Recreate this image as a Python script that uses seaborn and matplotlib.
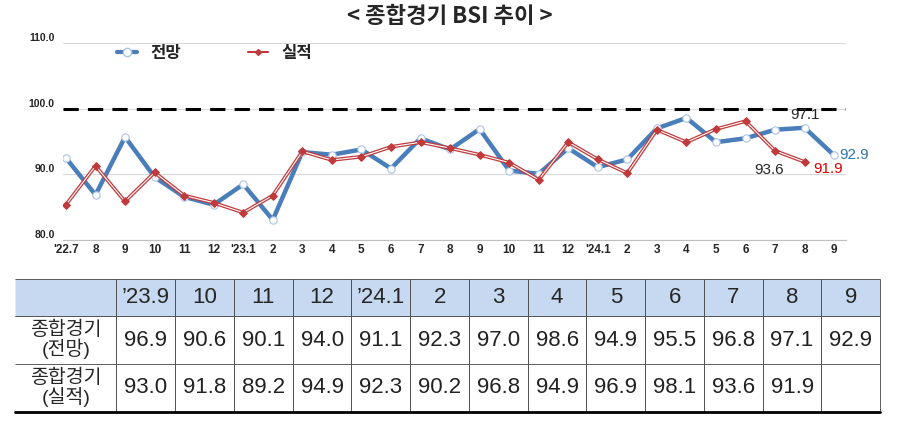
import matplotlib
matplotlib.use("Agg")
import matplotlib.pyplot as plt
import seaborn as sns
import pandas as pd

sns.set_style("white")
plt.rcParams['font.family'] = ['Liberation Sans', 'Noto Sans CJK KR', 'DejaVu Sans']

months = ["'22.7","8","9","10","11","12","'23.1","2","3","4","5","6","7","8",
          "9","10","11","12","'24.1","2","3","4","5","6","7","8","9"]
forecast = [92.5,86.9,95.7,89.6,86.6,85.4,88.5,83.1,93.4,93.0,93.8,90.9,95.5,93.8,
            96.9,90.6,90.1,94.0,91.1,92.3,97.0,98.6,94.9,95.5,96.8,97.1,92.9]
actual = [85.4,91.3,85.9,90.3,86.8,85.7,84.2,86.8,93.5,92.2,92.7,94.2,94.9,94.0,
          93.0,91.8,89.2,94.9,92.3,90.2,96.8,94.9,96.9,98.1,93.6,91.9]

tbl_cols = ["’23.9","10","11","12","’24.1","2","3","4","5","6","7","8","9"]
tbl_fc = ["96.9","90.6","90.1","94.0","91.1","92.3","97.0","98.6","94.9","95.5","96.8","97.1","92.9"]
tbl_ac = ["93.0","91.8","89.2","94.9","92.3","90.2","96.8","94.9","96.9","98.1","93.6","91.9",""]

fig = plt.figure(figsize=(9, 4.29), dpi=100)
fig.text(0.5, 0.962, "< 종합경기 BSI 추이 >", ha="center", va="center", fontsize=16,
         fontweight="bold", family=['Noto Sans CJK KR'])

ax = fig.add_axes([0.07, 0.44, 0.87, 0.46])
df_f = pd.DataFrame({"x": range(len(forecast)), "y": forecast})
df_a = pd.DataFrame({"x": range(len(actual)), "y": actual})
blue = "#4a7ebb"; red = "#c0393b"
sns.lineplot(data=df_f, x="x", y="y", ax=ax, color=blue, lw=3.2, zorder=3)
ax.scatter(df_f.x, df_f.y, s=28, facecolor="white", edgecolor="#a9c4e6", lw=0.8, zorder=4)
sns.lineplot(data=df_a, x="x", y="y", ax=ax, color=red, lw=2.6, zorder=5)
sns.lineplot(data=df_a, x="x", y="y", ax=ax, color="white", lw=0.8, zorder=6)
ax.scatter(df_a.x, df_a.y, s=14, marker="D", color=red, zorder=7)
ax.axhline(100, color="black", lw=2.2, ls=(0, (5, 3)), zorder=2)
ax.set_ylim(80, 110)
ax.set_xlim(-0.1, len(months) - 0.6)
ax.set_yticks([80, 90, 100, 110])
ax.set_yticklabels(["80.0", "90.0", "100.0", "110.0"], fontsize=7.5, fontweight="bold")
ax.set_xticks(range(len(months)))
ax.set_xticklabels(months, fontsize=8.5, fontweight="bold")
ax.grid(axis="y", color="#d9d9d9", lw=0.8)
ax.set_xlabel(""); ax.set_ylabel("")
for s in ["top", "right", "left"]:
    ax.spines[s].set_visible(False)
ax.spines["bottom"].set_color("#bfbfbf")
ax.tick_params(axis="y", length=0, pad=6)
ax.tick_params(axis="x", length=0, pad=3)
for lbl in ax.get_yticklabels():
    lbl.set_verticalalignment("bottom")

ax.annotate("97.1", (25, 97.1), xytext=(0, 6), textcoords="offset points", ha="center", fontsize=11)
ax.annotate("92.9", (26, 92.9), xytext=(4, 0), textcoords="offset points", ha="left", va="center", fontsize=11, color="#2e75b6")
ax.annotate("93.6", (24, 93.6), xytext=(-4, -14), textcoords="offset points", ha="center", va="center", fontsize=11)
ax.annotate("91.9", (25, 91.9), xytext=(6, -5), textcoords="offset points", ha="left", va="center", fontsize=11, color="#e00000")

from matplotlib.lines import Line2D
h1 = Line2D([], [], color=blue, lw=3, marker="o", mfc="white", mec="#a9c4e6", ms=6)
h2 = Line2D([], [], color=red, lw=1.5, marker="D", ms=3)
ax.legend([h1, h2], ["전망", "실적"], loc="upper left", bbox_to_anchor=(0.05, 1.07), ncol=2,
          frameon=False, handlelength=1.2, columnspacing=4,
          prop={"size": 12, "weight": "bold", "family": ['Noto Sans CJK KR']})

tax = fig.add_axes([0.017, 0.04, 0.961, 0.31])
tax.axis("off")
cell = [[""] + tbl_cols, ["종합경기\n(전망)"] + tbl_fc, ["종합경기\n(실적)"] + tbl_ac]
widths = [0.117] + [(1 - 0.117) / 13] * 13
t = tax.table(cellText=cell, cellLoc="center", colWidths=widths, bbox=[0, 0, 1, 1])
t.auto_set_font_size(False)
for (r, c), ce in t.get_celld().items():
    ce.set_linewidth(0.6)
    ce.set_edgecolor("#444444")
    ce.get_text().set_fontsize(16 if c > 0 else 14)
    ce.get_text().set_linespacing(0.95)
    if r == 0:
        ce.set_facecolor("#c6d9f0")
        ce.set_height(0.28)
    else:
        ce.set_height(0.36)
        if c > 0:
            ce.get_text().set_color("#222222")
    if c == 0:
        ce.visible_edges = "BTR" if r == 0 else "TR"
    elif r == 0:
        ce.visible_edges = "closed"
    else:
        ce.visible_edges = "LRT"
tax.plot([0, 1], [0, 0], color="black", lw=2, transform=tax.transAxes, clip_on=False)

fig.savefig("out.png", dpi=100)
